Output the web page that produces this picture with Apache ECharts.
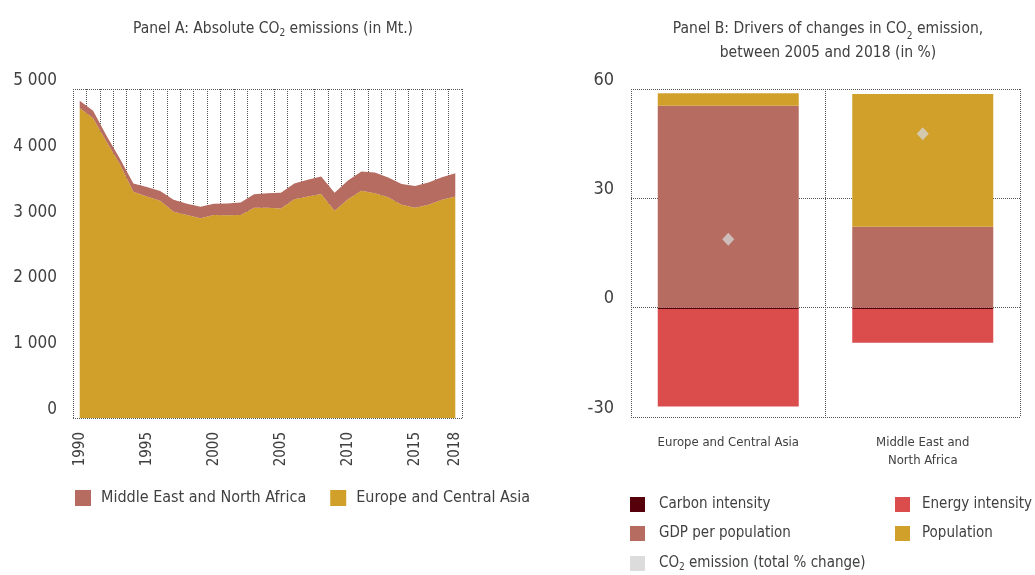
<!DOCTYPE html>
<html>
<head>
<meta charset="utf-8">
<script src="https://cdn.jsdelivr.net/npm/echarts@6/dist/echarts.min.js"></script>
<style>
  html, body { margin: 0; padding: 0; background: #fff; }
  #chart { width: 1035px; height: 575px; }
</style>
</head>
<body>
<div id="chart"></div>
<script>
// Panel A data (Mt CO2)
var years = ['1990', '1991', '1992', '1993', '1994', '1995', '1996', '1997', '1998', '1999',
    '2000', '2001', '2002', '2003', '2004', '2005', '2006', '2007', '2008', '2009',
    '2010', '2011', '2012', '2013', '2014', '2015', '2016', '2017', '2018'];
var europeCA = [4710, 4555, 4200, 3855, 3440, 3365, 3300, 3135, 3085, 3035,
    3085, 3080, 3085, 3195, 3195, 3185, 3325, 3365, 3405, 3150,
    3325, 3455, 3415, 3355, 3240, 3195, 3240, 3315, 3365];
var mena = [110, 115, 90, 85, 125, 145, 150, 180, 170, 175,
    170, 180, 190, 205, 220, 240, 240, 255, 265, 275,
    285, 290, 315, 300, 315, 330, 340, 345, 355];
var shownYears = ['1990', '1995', '2000', '2005', '2010', '2015', '2018'];

// Panel B data (%)
var regions = ['Europe and Central Asia', 'Middle East and\nNorth Africa'];
var carbonIntensity = [-0.4, -0.4];
var energyIntensity = [-26.7, -9.2];
var gdpPerPop = [55.4, 22.2];
var population = [3.4, 36.4];
var co2Total = [18.8, 47.7];

var FONT = '"Liberation Sans Narrow", "DejaVu Sans Condensed", "Roboto", sans-serif';
var TXT = '#404040';
var GOLD = '#d1a02a';
var BROWN = '#b66c60';
var RED = '#db4c4c';
var DARK = '#55000a';
var GREY = '#d3d3d3';
var dotted = { color: '#555', type: 'dotted', width: 1 };
var subRich = { s: { fontSize: 10, verticalAlign: 'bottom', padding: [8, 0, 0, 0], fontFamily: FONT, color: TXT } };
var CO2NAME = 'CO2 emission (total % change)';

function spaced(v) {
    return String(v).replace(/\B(?=(\d{3})+(?!\d))/g, ' ');
}

// one legend box per item, so the columns line up like the original
function legendItem(name, left, top, gap) {
    return {
        data: [{ name: name, icon: 'rect' }],
        left: left, top: top, padding: 0,
        itemWidth: 15, itemHeight: 15, itemGap: 0,
        formatter: function(n) {
            return n === CO2NAME ? 'CO{s|2} emission (total % change)' : n;
        },
        textStyle: { fontSize: 15, color: TXT, fontFamily: FONT, padding: [0, 0, 0, gap], rich: subRich },
        selectedMode: false
    };
}

var myChart = echarts.init(document.getElementById('chart'));

var option = {
    animation: false,
    textStyle: { fontFamily: FONT },
    title: [{
        text: 'Panel A: Absolute CO{s|2} emissions (in Mt.)',
        left: 268, top: 15, textAlign: 'center',
        textStyle: { fontSize: 15.5, fontWeight: 'normal', color: TXT, fontFamily: FONT, rich: subRich }
    }, {
        text: 'Panel B: Drivers of changes in CO{s|2} emission,\nbetween 2005 and 2018 (in %)',
        left: 823, top: 12, textAlign: 'center',
        textStyle: { fontSize: 15.5, fontWeight: 'normal', color: TXT, fontFamily: FONT, lineHeight: 24, rich: subRich }
    }],
    legend: [{
        data: ['Middle East and North Africa', 'Europe and Central Asia'],
        left: 75, top: 490, padding: 0,
        icon: 'rect', itemWidth: 16, itemHeight: 16, itemGap: 24,
        textStyle: { fontSize: 16, color: TXT, fontFamily: FONT, padding: [0, 0, 0, 5] },
        selectedMode: false
    },
        legendItem('Carbon intensity', 630, 497, 9),
        legendItem('GDP per population', 630, 526, 9),
        legendItem(CO2NAME, 630, 556, 9),
        legendItem('Energy intensity', 895, 497, 7),
        legendItem('Population', 895, 526, 7)
    ],
    grid: [
        { left: 73, top: 89, width: 389, height: 329 },
        { left: 631, top: 89, width: 389, height: 328 }
    ],
    xAxis: [{
        type: 'category', gridIndex: 0, data: years, boundaryGap: true,
        axisLine: { show: false }, axisTick: { show: false },
        splitLine: { show: true, interval: 0, lineStyle: dotted },
        axisLabel: {
            rotate: 90, margin: 14, fontSize: 15, color: TXT, fontFamily: FONT,
            interval: function(idx, val) { return shownYears.indexOf(val) >= 0; }
        }
    }, {
        type: 'category', gridIndex: 1, data: regions, boundaryGap: true,
        axisLine: { show: false }, axisTick: { show: false },
        splitLine: { show: true, interval: 0, lineStyle: dotted },
        axisLabel: { interval: 0, margin: 17, fontSize: 13, color: TXT, fontFamily: FONT, lineHeight: 18 }
    }],
    yAxis: [{
        type: 'value', gridIndex: 0, min: 0, max: 5000, interval: 1000,
        axisLine: { show: false }, axisTick: { show: false }, splitLine: { show: false },
        axisLabel: { fontSize: 17, color: TXT, fontFamily: FONT, margin: 16, verticalAlign: 'bottom',
            formatter: function(v) { return spaced(v); } }
    }, {
        type: 'value', gridIndex: 0, min: 0, max: 5000, interval: 5000, position: 'left',
        axisLine: { show: false }, axisTick: { show: false }, axisLabel: { show: false },
        splitLine: { show: true, lineStyle: dotted }
    }, {
        type: 'value', gridIndex: 1, min: -30, max: 60, interval: 30,
        axisLine: { show: false }, axisTick: { show: false },
        splitLine: { show: true, lineStyle: dotted },
        axisLabel: { fontSize: 18, color: TXT, fontFamily: FONT, margin: 17, verticalAlign: 'bottom' }
    }],
    series: [{
        name: 'Europe and Central Asia', type: 'line', stack: 'a',
        xAxisIndex: 0, yAxisIndex: 0, data: europeCA,
        showSymbol: false, lineStyle: { width: 0 }, color: GOLD,
        areaStyle: { color: GOLD, opacity: 1 }
    }, {
        name: 'Middle East and North Africa', type: 'line', stack: 'a',
        xAxisIndex: 0, yAxisIndex: 0, data: mena,
        showSymbol: false, lineStyle: { width: 0 }, color: BROWN,
        areaStyle: { color: BROWN, opacity: 1 }
    }, {
        name: 'Carbon intensity', type: 'bar', stack: 'b', barWidth: 141,
        xAxisIndex: 1, yAxisIndex: 2, data: carbonIntensity, color: DARK
    }, {
        name: 'Energy intensity', type: 'bar', stack: 'b', barWidth: 141,
        xAxisIndex: 1, yAxisIndex: 2, data: energyIntensity, color: RED
    }, {
        name: 'GDP per population', type: 'bar', stack: 'b', barWidth: 141,
        xAxisIndex: 1, yAxisIndex: 2, data: gdpPerPop, color: BROWN
    }, {
        name: 'Population', type: 'bar', stack: 'b', barWidth: 141,
        xAxisIndex: 1, yAxisIndex: 2, data: population, color: GOLD
    }, {
        name: CO2NAME, type: 'scatter',
        xAxisIndex: 1, yAxisIndex: 2, data: co2Total, color: GREY,
        symbol: 'diamond', symbolSize: [12, 13], z: 5
    }]
};

myChart.setOption(option);
</script>
</body>
</html>
